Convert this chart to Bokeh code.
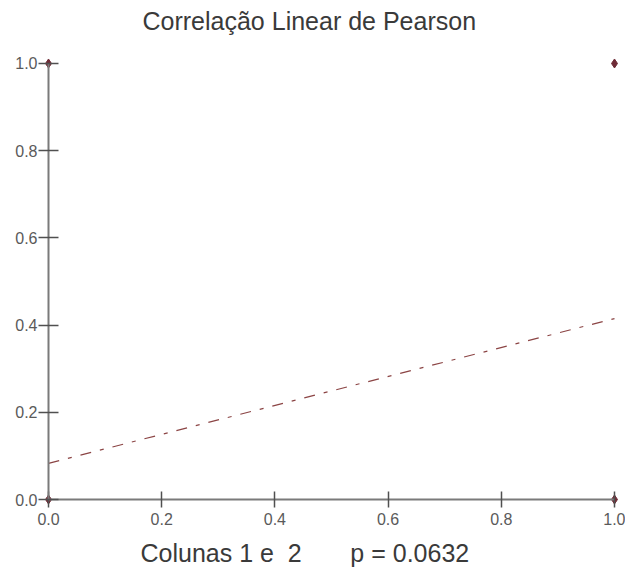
from bokeh.plotting import figure
from bokeh.models import Range1d, FixedTicker, PrintfTickFormatter, Label, LinearAxis
from bokeh.embed import file_html
from bokeh.resources import INLINE

# data
pts_x = [0.0, 0.0, 1.0, 1.0]
pts_y = [0.0, 1.0, 0.0, 1.0]
fit_x = [0.0, 1.0]
fit_y = [0.083, 0.415]
x_ticks = [0.0, 0.2, 0.4, 0.6, 0.8, 1.0]
y_ticks = [0.0, 0.2, 0.4, 0.6, 0.8, 1.0]
title_text = "Correlação Linear de Pearson"
footer_text = "Colunas 1 e\u00a0 2\u00a0\u00a0\u00a0\u00a0\u00a0\u00a0 p = 0.0632"

FONT = "Liberation Sans"

p = figure(width=625, height=579,
           x_range=Range1d(-0.084806, 1.019435),
           y_range=Range1d(-0.183486, 1.144495),
           output_backend="svg", toolbar_location=None,
           x_axis_location=None, y_axis_location=None,
           min_border_left=0, min_border_right=0,
           min_border_top=0, min_border_bottom=0)

p.grid.visible = False
p.outline_line_color = None
p.background_fill_color = "white"
p.border_fill_color = "white"

fmt = PrintfTickFormatter(format="%.1f")

# axes crossing at the origin
xax = LinearAxis(fixed_location=0, bounds=(0, 1), ticker=FixedTicker(ticks=x_ticks),
                 formatter=fmt, major_tick_out=8, major_tick_in=8,
                 major_label_standoff=5)
yax = LinearAxis(fixed_location=0, bounds=(0, 1), ticker=FixedTicker(ticks=y_ticks),
                 formatter=fmt, major_tick_out=10, major_tick_in=10,
                 major_label_standoff=1)
for ax in (xax, yax):
    ax.axis_line_color = "#7a7a7a"
    ax.axis_line_width = 2
    ax.major_tick_line_color = "#505050"
    ax.major_tick_line_width = 1.5
    ax.minor_tick_line_color = None
    ax.major_label_text_font = FONT
    ax.major_label_text_font_size = "16px"
    ax.major_label_text_color = "#5a5a5a"
p.add_layout(xax, "below")
p.add_layout(yax, "left")

p.line(fit_x, fit_y, line_color="#8b4444", line_width=1.2, line_dash="11 9 4 9")
p.scatter(pts_x, pts_y, marker="diamond", size=9, fill_color="#6e2b36", line_color="#6e2b36")

title = Label(x=142, y=559, x_units="screen", y_units="screen", text=title_text,
              text_align="left", text_baseline="alphabetic",
              text_font=FONT, text_font_size="25px", text_color="#3a3a3a")
footer = Label(x=140, y=27, x_units="screen", y_units="screen", text=footer_text,
               text_align="left", text_baseline="alphabetic",
               text_font=FONT, text_font_size="25px", text_color="#3a3a3a")
p.add_layout(title)
p.add_layout(footer)

open("out.html", "w").write(file_html(p, INLINE))
